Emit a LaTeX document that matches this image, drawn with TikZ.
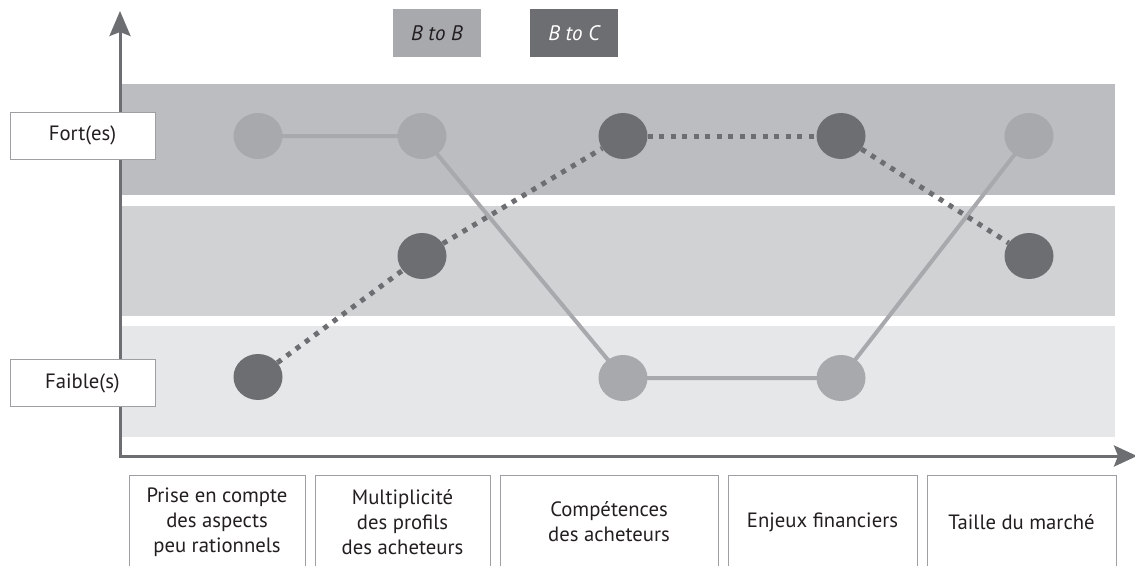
\documentclass[tikz,border=0pt]{standalone}
\usepackage{fontspec}
\setmainfont{PT Sans}
\usetikzlibrary{shapes.geometric,arrows.meta}
\definecolor{bandhi}{HTML}{BCBDC0}
\definecolor{bandmid}{HTML}{D1D2D4}
\definecolor{bandlo}{HTML}{E6E7E8}
\definecolor{lightdot}{HTML}{A7A9AC}
\definecolor{darkdot}{HTML}{6D6E71}
\definecolor{boxline}{HTML}{9D9FA2}
\definecolor{ink}{HTML}{231F20}
\pgfdeclarelayer{bands}
\pgfdeclarelayer{links}
\pgfsetlayers{bands,links,main}
\tikzset{
  band/.style={fill=#1, draw=none},
  axisline/.style={draw=darkdot, line width=3pt},
  levelbox/.style={draw=boxline, line width=0.9pt, fill=white, minimum width=145pt,
    minimum height=47pt, inner sep=0pt, text=ink, font=\fontsize{20.7}{24}\selectfont},
  critbox/.style={draw=boxline, line width=0.9pt, fill=white, minimum height=94pt,
    inner sep=0pt, align=center, text=ink, font=\fontsize{20.7}{24.8}\selectfont},
  legendbox/.style={fill=#1, minimum width=88pt, minimum height=48pt, inner sep=0pt,
    font=\itshape\fontsize{21}{24}\selectfont},
  dotb/.style={ellipse, fill=lightdot, minimum width=49pt, minimum height=46pt, inner sep=0pt},
  dotc/.style={ellipse, fill=darkdot, minimum width=49pt, minimum height=46pt, inner sep=0pt},
  linkb/.style={draw=lightdot, line width=4pt},
  linkc/.style={draw=darkdot, line width=5pt, dash pattern=on 5pt off 6.5pt},
}
\begin{document}
\begin{tikzpicture}[x=1pt, y=-1pt]
\useasboundingbox (0,0) rectangle (1135,565);

% horizontal level bands
\begin{pgfonlayer}{bands}
  \fill[band=bandhi]  (120,84)  rectangle (1115,195);
  \fill[band=bandmid] (120,206) rectangle (1115,316);
  \fill[band=bandlo]  (120,326) rectangle (1115,437);
\end{pgfonlayer}

% axes
\coordinate (ytip) at (120,11);
\coordinate (origin) at (120,456);
\coordinate (xtip) at (1137,456);
\draw[axisline, {Stealth[length=25pt,width=21pt,inset=4pt]}-{Stealth[length=23pt,width=21pt,inset=4pt]}]
  (ytip) -- (origin) -- (xtip);

% legend
\node[legendbox=lightdot, text=ink] (lbb) at (437,33) {B to B};
\node[legendbox=darkdot, text=white] (lbc) at (574,33) {B to C};

% level labels
\node[levelbox] (fort) at (82.5,135.5) {Fort(es)};
\node[levelbox] (faible) at (82.5,383) {Faible(s)};

% criteria
\node[critbox, minimum width=176pt] (c1) at (217,522) {Prise en compte\\des aspects\\peu rationnels};
\node[critbox, minimum width=175pt] (c2) at (402.5,522) {Multiplicité\\des profils\\des acheteurs};
\node[critbox, minimum width=218pt] (c3) at (609,522) {Compétences\\des acheteurs};
\node[critbox, minimum width=189pt] (c4) at (822.5,522) {Enjeux financiers};
\node[critbox, minimum width=189pt] (c5) at (1021.5,522) {Taille du marché};

% B to B profile
\node[dotb] (b1) at (258,136) {};
\node[dotb] (b2) at (422,136) {};
\node[dotb] (b3) at (623,378) {};
\node[dotb] (b4) at (841,378) {};
\node[dotb] (b5) at (1029,136) {};

% B to C profile
\node[dotc] (k1) at (258,377) {};
\node[dotc] (k2) at (422,256) {};
\node[dotc] (k3) at (623,136) {};
\node[dotc] (k4) at (841,136) {};
\node[dotc] (k5) at (1029,256) {};

\begin{pgfonlayer}{links}
  \draw[linkb] (b1.center) -- (b2.center) -- (b3.center) -- (b4.center) -- (b5.center);
  \draw[linkc] (k1) -- (k2);
  \draw[linkc] (k2) -- (k3);
  \draw[linkc] (k3) -- (k4);
  \draw[linkc] (k4) -- (k5);
\end{pgfonlayer}
\end{tikzpicture}
\end{document}
